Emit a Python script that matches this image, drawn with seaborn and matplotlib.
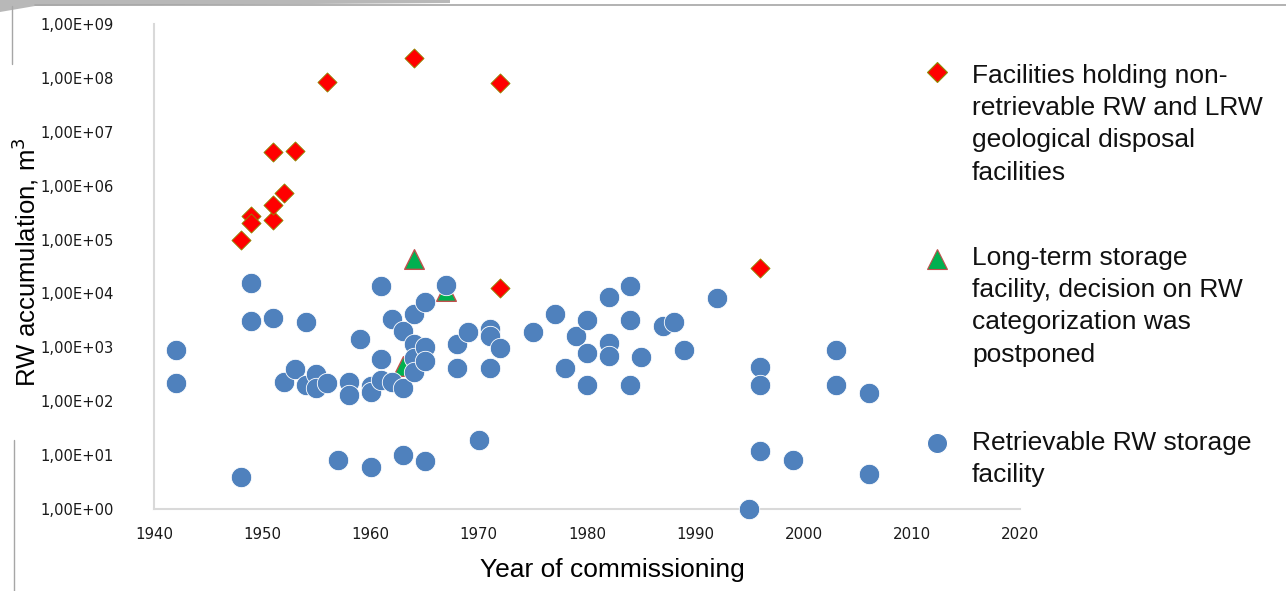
import numpy as np
import pandas as pd
import seaborn as sns
import matplotlib.pyplot as plt
from matplotlib.lines import Line2D
from matplotlib.ticker import FixedLocator, FuncFormatter, NullLocator

# non-retrievable RW / LRW geological disposal facilities
red_years = [1948, 1949, 1949, 1951, 1951, 1952, 1951, 1953, 1956, 1964, 1972, 1972, 1996]
red_vals = [1.0e5, 2.7e5, 2.0e5, 2.3e5, 4.4e5, 7.3e5, 4.2e6, 4.4e6, 8.3e7, 2.3e8, 8.0e7, 1.25e4, 3.0e4]

# long-term storage, categorization postponed
green_years = [1964, 1967, 1963]
green_vals = [4.3e4, 1.1e4, 450]

# retrievable RW storage facilities
blue_years = [1942, 1942, 1948, 1949, 1949, 1951, 1952, 1953, 1954, 1954,
              1955, 1955, 1956, 1957, 1958, 1958, 1959, 1960, 1960, 1960,
              1961, 1961, 1961, 1962, 1962, 1963, 1963, 1963, 1964, 1964,
              1964, 1964, 1965, 1965, 1965, 1965, 1967, 1968, 1968, 1969,
              1970, 1971, 1971, 1971, 1972, 1975, 1977, 1978, 1979, 1980,
              1980, 1980, 1982, 1982, 1982, 1984, 1984, 1984, 1985, 1987,
              1988, 1989, 1992, 1995, 1996, 1996, 1996, 1999, 2003, 2003,
              2006, 2006]
blue_vals = [900, 218, 4.0, 1.55e4, 3.1e3, 3.5e3, 230, 390, 3.0e3, 200,
             320, 174, 220, 8.1, 230, 130, 1.4e3, 195, 150, 6.1,
             1.4e4, 600, 245, 3.3e3, 230, 2.0e3, 178, 10, 4.2e3, 1.15e3,
             630, 355, 7.0e3, 1.0e3, 560, 7.9, 1.44e4, 1.14e3, 410, 1.9e3,
             19, 2.15e3, 1.6e3, 420, 980, 1.95e3, 4.1e3, 410, 1.66e3, 3.2e3,
             780, 200, 8.5e3, 1.2e3, 700, 1.38e4, 3.2e3, 200, 650, 2.5e3,
             2.95e3, 880, 8.1e3, 1.0, 435, 200, 12, 8.1, 900, 200,
             140, 4.5]

x_ticks = [1940, 1950, 1960, 1970, 1980, 1990, 2000, 2010, 2020]
y_ticks = [10.0 ** k for k in range(10)]

legend_labels = [
    "Facilities holding non-\nretrievable RW and LRW\ngeological disposal\nfacilities",
    "Long-term storage\nfacility, decision on RW\ncategorization was\npostponed",
    "Retrievable RW storage\nfacility",
]

RED, GREEN, BLUE = "#ff0000", "#00b050", "#4f81bd"

sns.set_style("white")
plt.rcParams["font.family"] = ["Liberation Sans", "DejaVu Sans"]

red = pd.DataFrame({"year": red_years, "value": red_vals})
green = pd.DataFrame({"year": green_years, "value": green_vals})
blue = pd.DataFrame({"year": blue_years, "value": blue_vals})

fig = plt.figure(figsize=(12.86, 5.91), dpi=100)
ax = fig.add_axes([0.1198, 0.1387, 0.6734, 0.8206])
ax.set_yscale("log")

sns.scatterplot(data=red, x="year", y="value", marker="D", s=95, color=RED,
                edgecolor="#8c8c00", linewidth=0.6, ax=ax, zorder=3)
sns.scatterplot(data=green, x="year", y="value", marker="^", s=200, color=GREEN,
                edgecolor="#c0504d", linewidth=1.0, ax=ax, zorder=3)
sns.scatterplot(data=blue, x="year", y="value", marker="o", s=215, color=BLUE,
                edgecolor="white", linewidth=0.6, ax=ax, zorder=4)

ax.set_xlim(1940, 2020)
ax.set_ylim(1, 1e9)
ax.xaxis.set_major_locator(FixedLocator(x_ticks))
ax.yaxis.set_major_locator(FixedLocator(y_ticks))
ax.yaxis.set_minor_locator(NullLocator())
ax.yaxis.set_major_formatter(FuncFormatter(lambda v, p: f"{v:.2E}".replace(".", ",")))
ax.tick_params(axis="both", length=0, labelcolor="#1a1a1a")
ax.tick_params(axis="y", pad=29)
ax.tick_params(axis="x", pad=13)
for lab in ax.get_yticklabels():
    lab.set_fontfamily("DejaVu Sans")
    lab.set_fontsize(10.6)
for lab in ax.get_xticklabels():
    lab.set_fontfamily("DejaVu Sans")
    lab.set_fontsize(10.8)
ax.set_xlabel("")
ax.set_ylabel("")
for side in ["top", "right"]:
    ax.spines[side].set_visible(False)
for side in ["left", "bottom"]:
    ax.spines[side].set_color("#d9d9d9")
    ax.spines[side].set_linewidth(1.5)
for coll in ax.collections:
    coll.set_clip_on(False)

fig.text(612 / 1286, 1 - 570 / 591, "Year of commissioning", ha="center", va="center",
         fontsize=19, color="black")
fig.text(25 / 1286, 1 - 262 / 591, "RW accumulation, m$^3$", ha="center", va="center",
         rotation=90, fontsize=18.5, color="black")

# legend drawn by hand so the marker sits next to the first text line
W, H = 1286, 591
legend_specs = [("D", RED, "#8c8c00", 10.5, 72, 64),
                ("^", GREEN, "#c0504d", 14, 259, 246),
                ("o", BLUE, "white", 14.5, 443, 431)]
for (mk, fc, ec, ms, my, ty), label in zip(legend_specs, legend_labels):
    fig.add_artist(Line2D([937 / W], [1 - my / H], marker=mk, markersize=ms,
                          markerfacecolor=fc, markeredgecolor=ec, markeredgewidth=0.8,
                          linestyle="none", transform=fig.transFigure))
    fig.text(972 / W, 1 - ty / H, label, ha="left", va="top", fontsize=19,
             linespacing=1.43, color="#111111")

# slide frame remnants
fig.add_artist(plt.Polygon([[0, 1], [450 / W, 1], [450 / W, 1 - 3 / H], [35 / W, 1 - 6 / H],
                            [0, 1 - 12 / H]], closed=True, transform=fig.transFigure,
                           facecolor="#b8b8b8", edgecolor="none"))
fig.add_artist(Line2D([35 / W, 1], [1 - 5 / H, 1 - 5 / H], color="#a6a6a6", lw=1.2,
                      transform=fig.transFigure))
fig.add_artist(Line2D([12 / W, 12 / W], [1 - 6 / H, 1 - 64 / H], color="#a6a6a6", lw=1,
                      transform=fig.transFigure))
fig.add_artist(Line2D([14 / W, 14 / W], [1 - 440 / H, 0], color="#a6a6a6", lw=1,
                      transform=fig.transFigure))

fig.savefig("out.png", dpi=100)
